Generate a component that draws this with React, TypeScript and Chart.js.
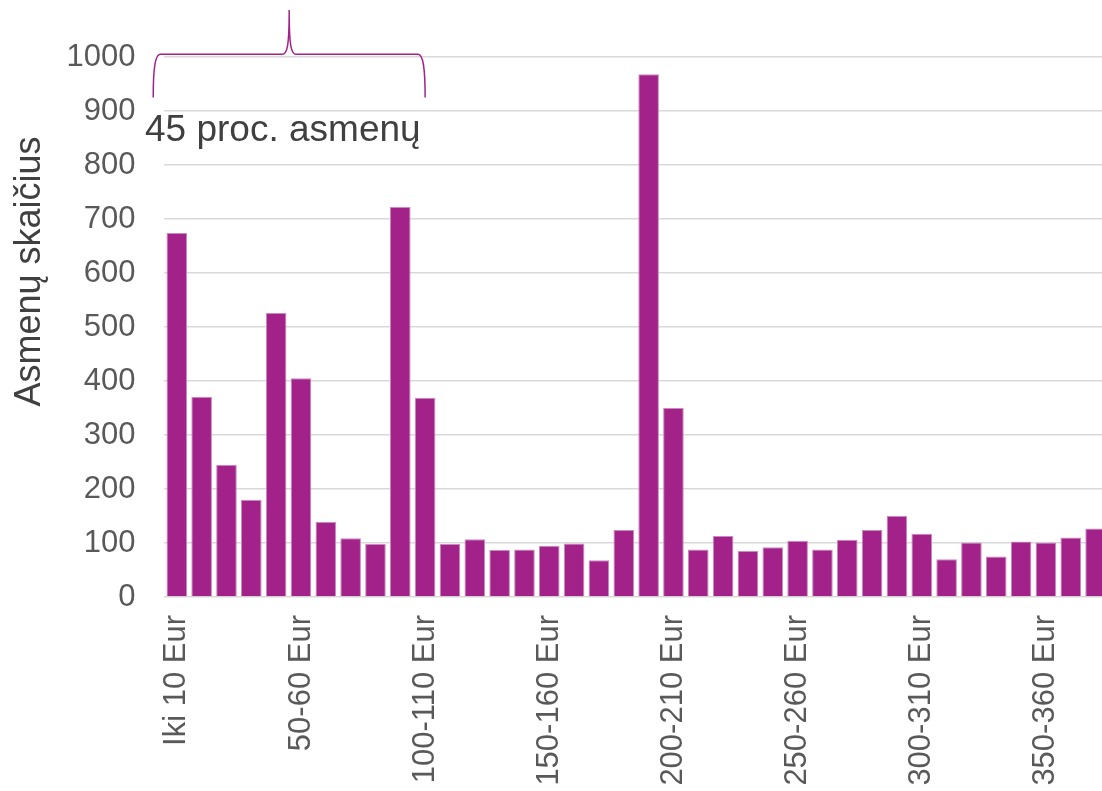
import React, { useEffect, useRef } from 'react';
import { Chart, registerables } from 'chart.js';

Chart.register(...registerables);

const categories = [
  'Iki 10 Eur', '10-20 Eur', '20-30 Eur', '30-40 Eur', '40-50 Eur',
  '50-60 Eur', '60-70 Eur', '70-80 Eur', '80-90 Eur', '90-100 Eur',
  '100-110 Eur', '110-120 Eur', '120-130 Eur', '130-140 Eur', '140-150 Eur',
  '150-160 Eur', '160-170 Eur', '170-180 Eur', '180-190 Eur', '190-200 Eur',
  '200-210 Eur', '210-220 Eur', '220-230 Eur', '230-240 Eur', '240-250 Eur',
  '250-260 Eur', '260-270 Eur', '270-280 Eur', '280-290 Eur', '290-300 Eur',
  '300-310 Eur', '310-320 Eur', '320-330 Eur', '330-340 Eur', '340-350 Eur',
  '350-360 Eur', '360-370 Eur', '370-380 Eur',
];

const values = [
  674, 371, 245, 180, 526, 405, 139, 109, 98, 722,
  369, 98, 107, 87, 88, 95, 99, 68, 124, 968,
  350, 88, 113, 85, 92, 104, 88, 106, 124, 150,
  117, 70, 101, 75, 103, 101, 110, 127,
];

const yMin = 0;
const yMax = 1000;
const yStep = 100;
const labelEvery = 5;

const yAxisTitle = 'Asmenų skaičius';
const braceLabel = '45 proc. asmenų';

const FONT = "'Liberation Sans', Arial, sans-serif";
const BAR_COLOR = '#A2228A';

const annotationPlugin = {
  id: 'braceAnnotation',
  afterDraw(chart: any) {
    const { ctx } = chart;
    const x = chart.scales.x;
    const y = chart.scales.y;

    // y-axis title
    ctx.save();
    ctx.translate(40, 271.5);
    ctx.rotate(-Math.PI / 2);
    ctx.font = `36px ${FONT}`;
    ctx.fillStyle = '#404040';
    ctx.textAlign = 'center';
    ctx.textBaseline = 'alphabetic';
    ctx.fillText(yAxisTitle, 0, 0);
    ctx.restore();

    // brace
    const L = x.getPixelForValue(-0.95);
    const R = x.getPixelForValue(10);
    const M = (L + R) / 2;
    const yb = y.getPixelForValue(925);
    const ym = y.getPixelForValue(1005);
    const yp = y.getPixelForValue(1087);

    ctx.save();
    ctx.strokeStyle = BAR_COLOR;
    ctx.lineWidth = 1.5;
    ctx.beginPath();
    ctx.moveTo(L, yb);
    ctx.bezierCurveTo(L, ym + 14, L + 2, ym, L + 7, ym);
    ctx.lineTo(M - 7, ym);
    ctx.bezierCurveTo(M - 2, ym, M, ym - 8, M, yp);
    ctx.bezierCurveTo(M, ym - 8, M + 2, ym, M + 7, ym);
    ctx.lineTo(R - 7, ym);
    ctx.bezierCurveTo(R - 2, ym, R, ym + 14, R, yb);
    ctx.stroke();
    ctx.restore();

    // brace label
    ctx.save();
    ctx.font = `37px ${FONT}`;
    ctx.fillStyle = '#404040';
    ctx.textAlign = 'left';
    ctx.textBaseline = 'alphabetic';
    ctx.fillText(braceLabel, x.getPixelForValue(-1.28), y.getPixelForValue(845));
    ctx.restore();
  },
};

export default function App() {
  const canvasRef = useRef<HTMLCanvasElement | null>(null);

  useEffect(() => {
    if (!canvasRef.current) return;
    const chart = new Chart(canvasRef.current, {
      type: 'bar',
      data: {
        labels: categories,
        datasets: [
          {
            data: values,
            backgroundColor: BAR_COLOR,
            borderColor: '#c98abd',
            borderWidth: 1,
            barPercentage: 0.83,
            categoryPercentage: 1,
          },
        ],
      },
      options: {
        animation: false,
        responsive: false,
        devicePixelRatio: 1,
        layout: { padding: { left: 0, top: 57, right: 12, bottom: 0 } },
        plugins: {
          legend: { display: false },
          tooltip: { enabled: false },
          title: { display: false },
        },
        scales: {
          x: {
            grid: { display: false, drawTicks: false },
            border: { display: false },
            ticks: {
              autoSkip: false,
              minRotation: 90,
              maxRotation: 90,
              padding: 18,
              color: '#595959',
              font: { family: FONT, size: 31 },
              callback: (_v: any, i: number) => (i % labelEvery === 0 ? categories[i] : ''),
            },
            afterFit: (scale: any) => {
              scale.height = 194;
              scale.paddingLeft = 0;
              scale.paddingRight = 0;
            },
          },
          y: {
            min: yMin,
            max: yMax,
            grid: { color: '#d9d9d9', lineWidth: 1.5, drawTicks: false },
            border: { display: false },
            ticks: {
              stepSize: yStep,
              padding: 29,
              color: '#595959',
              font: { family: FONT, size: 31 },
              callback: (v: any) => String(v),
            },
            afterFit: (scale: any) => {
              scale.width = 164.4;
              scale.paddingTop = 0;
              scale.paddingBottom = 0;
            },
          },
        },
      },
      plugins: [annotationPlugin],
    });
    return () => chart.destroy();
  }, []);

  return (
    <div
      style={{
        position: 'fixed',
        left: 0,
        top: 0,
        width: 1102,
        height: 791,
        overflow: 'hidden',
        background: '#fff',
      }}
    >
      <canvas ref={canvasRef} width={1120} height={791} style={{ display: 'block' }} />
    </div>
  );
}
